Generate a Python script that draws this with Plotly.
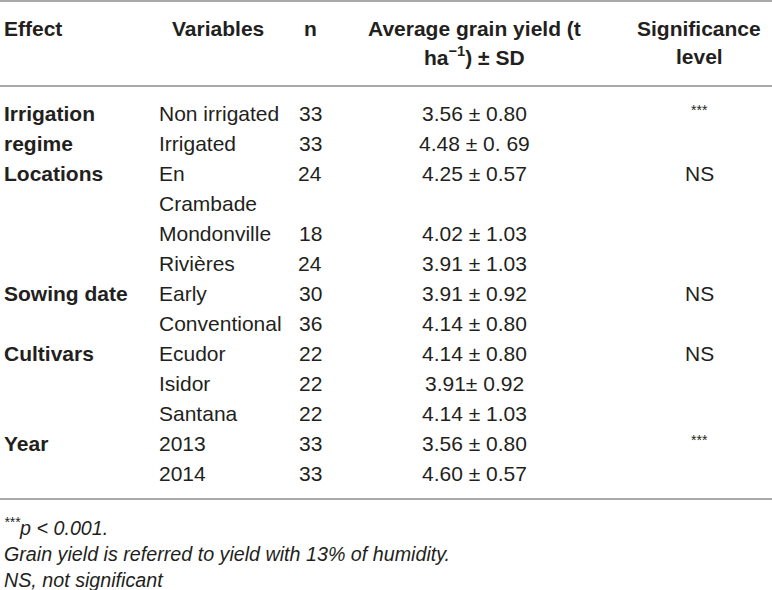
import plotly.graph_objects as go

# table content, one entry per body row (13 rows)
effects = ["Irrigation", "regime", "Locations", "", "", "", "Sowing date", "", "Cultivars", "", "", "Year", ""]
variables = ["Non irrigated", "Irrigated", "En", "Crambade", "Mondonville", "Rivières", "Early",
             "Conventional", "Ecudor", "Isidor", "Santana", "2013", "2014"]
n_values = ["33", "33", "24", "", "18", "24", "30", "36", "22", "22", "22", "33", "33"]
yields = ["3.56 ± 0.80", "4.48 ± 0. 69", "4.25 ± 0.57", "", "4.02 ± 1.03", "3.91 ± 1.03", "3.91 ± 0.92",
          "4.14 ± 0.80", "4.14 ± 0.80", "3.91± 0.92", "4.14 ± 1.03", "3.56 ± 0.80", "4.60 ± 0.57"]
significance = ["***", "", "NS", "", "", "", "NS", "", "NS", "", "", "***", ""]

header_line1 = ["Effect", "Variables", "n", "Average grain yield (t", "Significance"]
header_line2 = ["", "", "", "ha<sup>−1</sup>) ± SD", "level"]

footnotes = ["<sup>***</sup>p < 0.001.",
             "Grain yield is referred to yield with 13% of humidity.",
             "NS, not significant"]

W, H = 772, 590
FONT = "Liberation Sans, Arial, Helvetica, sans-serif"
TXT = "#231f20"
LINE = "#8c8c8c"
SIZE = 21

row_top, row_step = 113, 30
col_x = [2, 170, 310, 474, 699]
val_x = [2, 157, 310, 474, 699]
val_anchor = ["left", "left", "center", "center", "center"]
head_anchor = ["left", "left", "center", "center", "center"]

fig = go.Figure()
fig.add_trace(go.Scatter(x=[0, W], y=[0, H], mode="markers", marker=dict(opacity=0), hoverinfo="skip"))

def text(x, y, s, anchor, bold=False, italic=False, size=SIZE):
    if bold:
        s = "<b>" + s + "</b>"
    if italic:
        s = "<i>" + s + "</i>"
    fig.add_annotation(x=x, y=y, text=s, showarrow=False, xanchor=anchor, yanchor="middle",
                       font=dict(family=FONT, size=size, color=TXT))

# header
for j, s in enumerate(header_line1):
    text(col_x[j], 28, s, head_anchor[j], bold=True)
for j, s in enumerate(header_line2):
    if s:
        text(col_x[j], 56, s, head_anchor[j], bold=True)

# body
columns = [effects, variables, n_values, yields, significance]
for j, col in enumerate(columns):
    for i, s in enumerate(col):
        if not s:
            continue
        y = row_top + i * row_step
        if s == "***":
            text(val_x[j], y - 3, s, val_anchor[j], size=14)
        else:
            text(val_x[j], y, s, val_anchor[j], bold=(j == 0))

# rules
for y in [1, 86, 499]:
    fig.add_shape(type="line", x0=0, x1=W, y0=y, y1=y, line=dict(color=LINE, width=1.6))

# footnotes
for k, s in enumerate(footnotes):
    text(2, 527 + k * 26.5, s, "left", italic=True, size=19.7)

fig.update_layout(
    width=W, height=H,
    margin=dict(l=0, r=0, t=0, b=0),
    paper_bgcolor="white", plot_bgcolor="white",
    showlegend=False,
    xaxis=dict(range=[0, W], visible=False, fixedrange=True),
    yaxis=dict(range=[H, 0], visible=False, fixedrange=True),
)

fig.write_html("out.html", config={"displayModeBar": False},
               post_script="document.body.style.margin='0';")
